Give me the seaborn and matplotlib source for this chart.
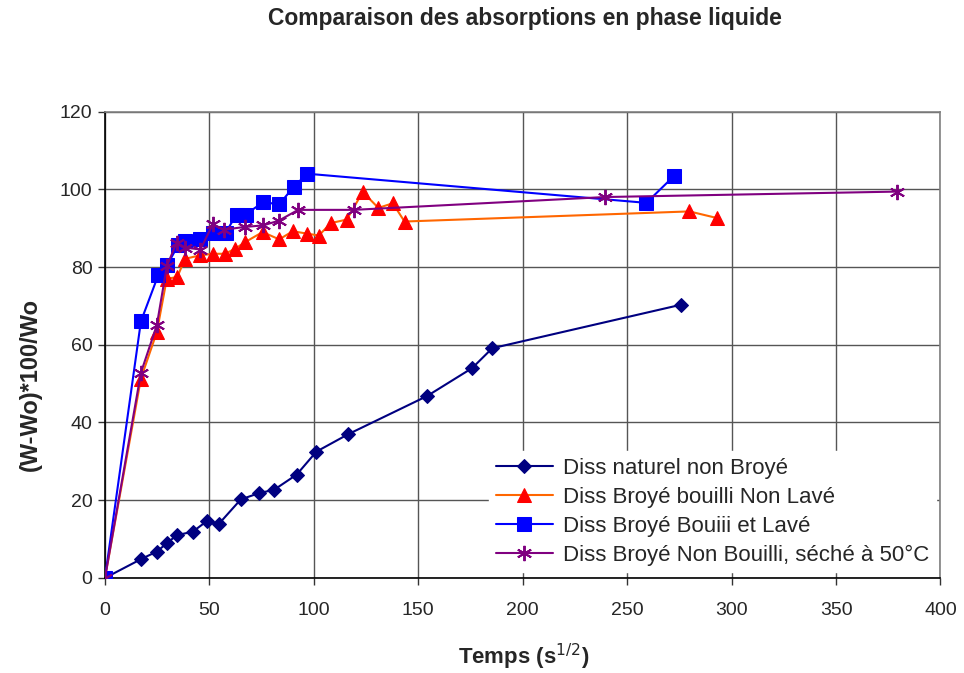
import matplotlib
matplotlib.use('Agg')
import matplotlib.pyplot as plt
import seaborn as sns

# Données
x_naturel = [0, 17.1, 24.8, 29.6, 34.3, 42.0, 48.7, 54.5, 65.0, 73.6, 81.0, 91.8,
             101.2, 116.5, 154.2, 175.8, 185.4, 275.8]
y_naturel = [0, 4.8, 6.8, 8.9, 11.0, 11.9, 14.6, 13.9, 20.2, 21.8, 22.7, 26.6,
             32.5, 37.0, 46.8, 54.0, 59.1, 70.3]

x_bouilli_nl = [0, 17.2, 24.8, 29.6, 34.6, 38.3, 45.5, 51.9, 57.5, 62.3, 67.1, 75.5,
                83.4, 89.9, 96.6, 102.4, 108.1, 115.8, 123.4, 130.9, 137.8, 143.4,
                279.8, 293.0]
y_bouilli_nl = [0, 51.3, 63.2, 77.0, 77.4, 82.1, 83.0, 83.4, 83.4, 84.7, 86.4, 89.0,
                87.1, 89.2, 88.6, 88.1, 91.3, 92.2, 99.3, 95.2, 96.4, 91.7,
                94.3, 92.6]

x_bouilli_l = [0, 17.2, 25.5, 29.8, 35.0, 38.3, 45.5, 51.9, 57.7, 63.0, 67.3, 75.8,
               83.4, 90.3, 96.8, 259.2, 272.2]
y_bouilli_l = [0, 66.0, 77.9, 80.5, 85.6, 86.7, 87.3, 88.8, 88.8, 93.5, 93.5, 96.7,
               96.1, 100.6, 104.0, 96.5, 103.3]

x_seche = [0, 17.2, 24.8, 29.6, 34.3, 38.3, 45.7, 51.6, 57.0, 66.8, 75.7, 83.1,
           92.5, 119.0, 239.5, 379.2]
y_seche = [0, 52.8, 65.0, 80.2, 86.3, 85.0, 84.5, 91.0, 89.6, 90.3, 90.7, 91.9,
           94.7, 94.7, 98.0, 99.4]

noms = ['Diss naturel non Broyé',
        'Diss Broyé bouilli Non Lavé',
        'Diss Broyé Bouiii et Lavé',
        'Diss Broyé Non Bouilli, séché à 50°C']

sns.set_style('white')
plt.rcParams['font.family'] = ['Liberation Sans', 'DejaVu Sans']

fig = plt.figure(figsize=(9.64, 6.73), dpi=100)
ax = fig.add_axes([0.1089, 0.1412, 0.8667, 0.6931])

# Série 1 : losanges bleu marine
sns.lineplot(x=x_naturel, y=y_naturel, ax=ax, sort=False, estimator=None,
             color='#000080', lw=1.5, marker='D', markersize=7,
             markerfacecolor='#000080', markeredgecolor='#000080',
             label=noms[0], zorder=3)
# Série 2 : triangles rouges, ligne orange
sns.lineplot(x=x_bouilli_nl, y=y_bouilli_nl, ax=ax, sort=False, estimator=None,
             color='#FF6600', lw=1.5, marker='^', markersize=10,
             markerfacecolor='#FF0000', markeredgecolor='#FF0000',
             label=noms[1], zorder=3)
# Série 3 : carrés bleus
sns.lineplot(x=x_bouilli_l, y=y_bouilli_l, ax=ax, sort=False, estimator=None,
             color='#0000FF', lw=1.5, marker='s', markersize=9.5,
             markerfacecolor='#0000FF', markeredgecolor='#0000FF',
             label=noms[2], zorder=3)
# Série 4 : astérisques violets
sns.lineplot(x=x_seche, y=y_seche, ax=ax, sort=False, estimator=None,
             color='#800080', lw=1.5, marker=(6, 2, 0), markersize=11,
             markeredgewidth=1.4, markeredgecolor='#800080',
             label=noms[3], zorder=3)

ax.set_xlim(0, 400)
ax.set_ylim(0, 120)
ax.set_xticks(range(0, 401, 50))
ax.set_yticks(range(0, 121, 20))
ax.grid(True, color='#555555', lw=1.0)
ax.set_axisbelow(True)
ax.tick_params(axis='both', direction='out', length=5, width=1, color='#333333',
               labelsize=14, left=True, bottom=True)
ax.tick_params(axis='x', pad=12)
ax.tick_params(axis='y', pad=4)

for side in ['left', 'bottom']:
    ax.spines[side].set_color('black')
    ax.spines[side].set_linewidth(1.2)
for side in ['top', 'right']:
    ax.spines[side].set_color('#808080')
    ax.spines[side].set_linewidth(1.2)

ax.set_xlabel('Temps (s$^{1/2}$)', fontsize=16, fontweight='bold')
ax.xaxis.set_label_coords(0.5015, -0.136)
ax.set_ylabel('(W-Wo)*100/Wo', fontsize=17, fontweight='bold')
ax.yaxis.set_label_coords(-0.076, 0.414)
fig.text(0.545, 0.972, 'Comparaison des absorptions en phase liquide',
         fontsize=16.5, fontweight='bold', ha='center', va='center')

leg = ax.legend(loc='lower right', bbox_to_anchor=(0.995, 0.012), fontsize=16,
                frameon=True, fancybox=False, framealpha=1, facecolor='white',
                edgecolor='white', handlelength=2.6, handletextpad=0.45,
                labelspacing=0.36, borderpad=0.3, borderaxespad=0)
leg.set_zorder(5)

fig.savefig('out.png', dpi=100)
